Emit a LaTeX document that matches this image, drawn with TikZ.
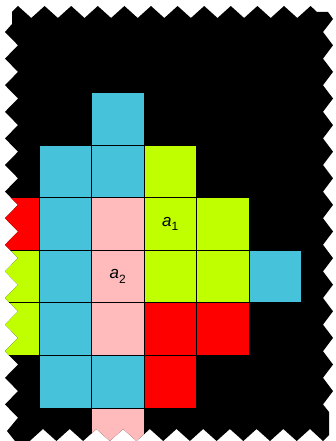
\documentclass[tikz,border=0pt]{standalone}
\usepackage{fontspec}
\setmainfont{Liberation Sans}
\definecolor{cblue}{RGB}{70,194,219}
\definecolor{cgreen}{RGB}{192,255,0}
\definecolor{cpink}{RGB}{255,187,187}
\definecolor{cred}{RGB}{255,0,0}
\newcommand\zigpath{(12,12) -- (18,6)
  \foreach \k in {0,...,10} { -- ({31.3+26.6*\k},18) -- ({44.6+26.6*\k},6) }
  -- (317,12) -- (328,12) -- (333,19)
  \foreach \k in {0,...,13} { -- (323,{32+26.6*\k}) -- (333,{45.3+26.6*\k}) }
  -- (323,404.4) -- (329,412) -- (329,435) -- (323,441)
  \foreach \j in {0,...,10} { -- ({310-26.7*\j},429) -- ({296.7-26.7*\j},441) }
  -- (15,441) -- (7,431)
  \foreach \k in {15,14,...,1} { -- (18,{18.7+26.6*\k}) -- (5,{5.4+26.6*\k}) }
  -- (12,24) -- cycle}
\newcommand\labA[1]{{\fontsize{17}{17}\selectfont\itshape a\raisebox{-0.28em}{\upshape\fontsize{12}{12}\selectfont #1}}}
\begin{document}
\begin{tikzpicture}[x=1pt,y=-1pt,
  cell/.style={draw=black, line width=0.9pt, minimum width=52.5pt, minimum height=52.6pt,
    inner sep=0pt, outer sep=0pt, anchor=north west}]
\useasboundingbox (0,0) rectangle (335,441);
\fill[black] \zigpath;
\begin{scope}
\clip \zigpath;
% row 0
\node[cell, fill=cblue] (r0c2) at (91.5,92.5) {};
% row 1
\node[cell, fill=cblue] (r1c1) at (39,145.1) {};
\node[cell, fill=cblue] (r1c2) at (91.5,145.1) {};
\node[cell, fill=cgreen] (r1c3) at (144,145.1) {};
% row 2
\node[cell, fill=cred] (r2c0) at (-13.5,197.7) {};
\node[cell, fill=cblue] (r2c1) at (39,197.7) {};
\node[cell, fill=cpink] (r2c2) at (91.5,197.7) {};
\node[cell, fill=cgreen] (r2c3) at (144,197.7) {\labA{1}};
\node[cell, fill=cgreen] (r2c4) at (196.5,197.7) {};
% row 3
\node[cell, fill=cgreen] (r3c0) at (-13.5,250.3) {};
\node[cell, fill=cblue] (r3c1) at (39,250.3) {};
\node[cell, fill=cpink] (r3c2) at (91.5,250.3) {\labA{2}};
\node[cell, fill=cgreen] (r3c3) at (144,250.3) {};
\node[cell, fill=cgreen] (r3c4) at (196.5,250.3) {};
\node[cell, fill=cblue] (r3c5) at (249,250.3) {};
% row 4
\node[cell, fill=cgreen] (r4c0) at (-13.5,302.9) {};
\node[cell, fill=cblue] (r4c1) at (39,302.9) {};
\node[cell, fill=cpink] (r4c2) at (91.5,302.9) {};
\node[cell, fill=cred] (r4c3) at (144,302.9) {};
\node[cell, fill=cred] (r4c4) at (196.5,302.9) {};
% row 5
\node[cell, fill=cblue] (r5c1) at (39,355.5) {};
\node[cell, fill=cblue] (r5c2) at (91.5,355.5) {};
\node[cell, fill=cred] (r5c3) at (144,355.5) {};
% row 6
\node[cell, fill=cpink] (r6c2) at (91.5,408.1) {};
\end{scope}
\end{tikzpicture}
\end{document}
